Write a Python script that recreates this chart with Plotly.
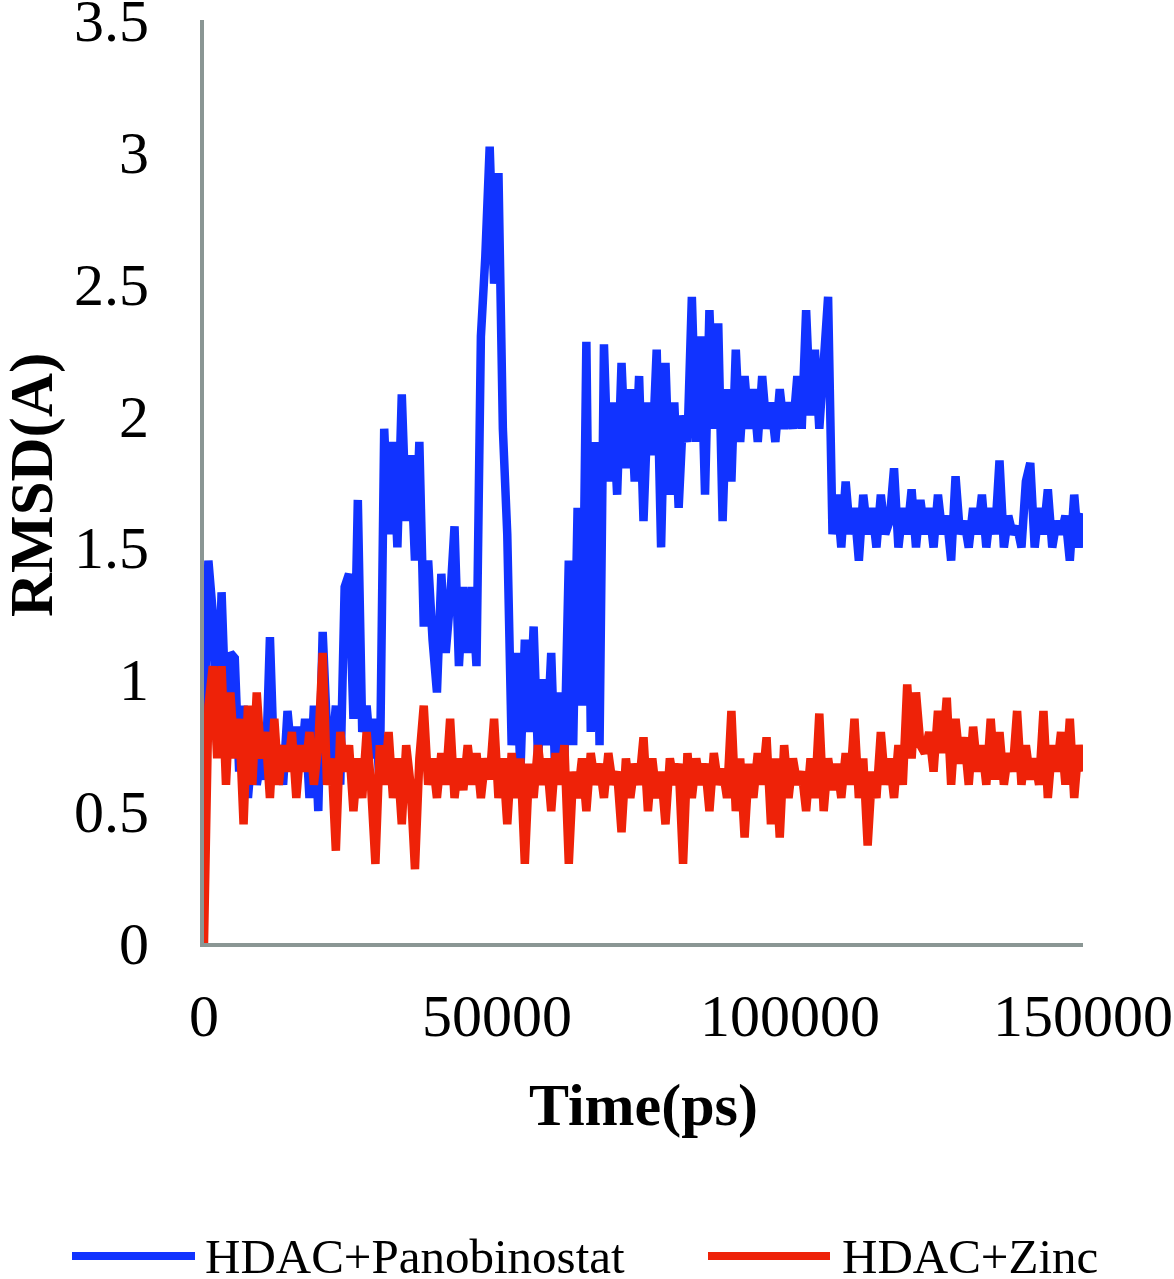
import plotly.graph_objects as go

time_step_ps = 750
panobinostat_rmsd = [
    0.8, 1.45, 1.25, 0.75, 1.33, 0.85, 1.1, 1.08, 0.65, 0.9,
    0.55, 0.75, 0.6, 0.7, 0.62, 1.16, 0.65, 0.75, 0.6, 0.88,
    0.7, 0.82, 0.65, 0.85, 0.55, 0.9, 0.5, 1.18, 0.8, 0.7,
    0.9, 0.6, 1.35, 1.4, 0.85, 1.68, 0.8, 0.9, 0.7, 0.85,
    0.6, 1.95, 1.55, 1.9, 1.5, 2.08, 1.6, 1.85, 1.45, 1.9,
    1.2, 1.45, 1.15, 0.95, 1.4, 1.1, 1.3, 1.58, 1.05, 1.35,
    1.1, 1.35, 1.05, 2.3, 2.6, 3.02, 2.5, 2.92, 1.95, 1.55,
    0.75, 1.1, 0.65, 1.15, 0.8, 1.2, 0.7, 1.0, 0.75, 1.1,
    0.6, 0.95, 0.7, 1.45, 0.75, 1.65, 0.9, 2.28, 0.8, 1.9,
    0.75, 2.27, 1.75, 2.05, 1.7, 2.2, 1.8, 2.1, 1.75, 2.15,
    1.6, 2.05, 1.85, 2.25, 1.5, 2.2, 1.7, 2.05, 1.65, 2.0,
    1.9, 2.45, 1.9, 2.3, 1.7, 2.4, 1.95, 2.35, 1.6, 2.1,
    1.75, 2.25, 1.9, 2.15, 1.95, 2.1, 1.9, 2.15, 1.95, 2.05,
    1.9, 2.1, 1.95, 2.05, 1.95, 2.15, 1.95, 2.4, 2.0, 2.25,
    1.95, 2.2, 2.45, 1.55, 1.7, 1.5, 1.75, 1.55, 1.65, 1.45,
    1.7, 1.55, 1.65, 1.5, 1.7, 1.55, 1.6, 1.8, 1.5, 1.65,
    1.55, 1.72, 1.5, 1.68, 1.55, 1.65, 1.5, 1.7, 1.55, 1.62,
    1.45, 1.77, 1.55, 1.6, 1.5, 1.65, 1.55, 1.7, 1.5, 1.65,
    1.55, 1.83, 1.5, 1.62, 1.55, 1.58, 1.5, 1.75, 1.82, 1.5,
    1.65, 1.55, 1.72, 1.5, 1.6, 1.55, 1.62, 1.45, 1.7, 1.5,
    1.63,
]
zinc_rmsd = [
    0.0, 0.9, 1.05, 0.7, 1.05, 0.6, 0.95, 0.7, 0.85, 0.45,
    0.9, 0.6, 0.95, 0.7, 0.8, 0.55, 0.85, 0.6, 0.75, 0.65,
    0.8, 0.55, 0.75, 0.65, 0.8, 0.6, 0.75, 1.1, 0.6, 0.7,
    0.35, 0.8, 0.65, 0.75, 0.5, 0.7, 0.55, 0.8, 0.6, 0.3,
    0.75, 0.6, 0.8, 0.55, 0.7, 0.45, 0.75, 0.6, 0.28, 0.7,
    0.9, 0.6, 0.7, 0.55, 0.72, 0.6, 0.85, 0.55, 0.7, 0.58,
    0.75, 0.6, 0.72, 0.55, 0.7, 0.62, 0.85, 0.55, 0.7, 0.45,
    0.72, 0.55, 0.7, 0.3, 0.68, 0.55, 0.75, 0.6, 0.7, 0.5,
    0.72, 0.6, 0.75, 0.3, 0.65, 0.55, 0.7, 0.5, 0.72, 0.6,
    0.68, 0.55, 0.72, 0.6, 0.65, 0.42, 0.7, 0.55, 0.68, 0.6,
    0.78, 0.5, 0.7, 0.55, 0.65, 0.45, 0.7, 0.6, 0.68, 0.3,
    0.72, 0.55, 0.7, 0.6, 0.68, 0.5, 0.72, 0.6, 0.66, 0.55,
    0.88, 0.5, 0.7, 0.4, 0.68, 0.55, 0.72, 0.6, 0.78, 0.45,
    0.7, 0.4, 0.75, 0.55, 0.7, 0.6, 0.65, 0.5, 0.7, 0.55,
    0.87, 0.5, 0.7, 0.58, 0.68, 0.55, 0.72, 0.6, 0.85, 0.55,
    0.7, 0.37, 0.65, 0.55, 0.8, 0.6, 0.7, 0.55, 0.75, 0.6,
    0.98, 0.7, 0.95, 0.75, 0.72, 0.8, 0.65, 0.88, 0.72, 0.93,
    0.6, 0.85, 0.68, 0.78, 0.6, 0.82, 0.65, 0.75, 0.6, 0.85,
    0.62, 0.8, 0.6, 0.72, 0.65, 0.88, 0.6, 0.75, 0.62, 0.7,
    0.6, 0.88, 0.55, 0.75, 0.65, 0.8, 0.6, 0.85, 0.55, 0.75,
    0.65,
]
time_ps = [i * time_step_ps for i in range(len(panobinostat_rmsd))]

x_ticks = [0, 50000, 100000, 150000]
y_ticks = [0, 0.5, 1, 1.5, 2, 2.5, 3, 3.5]
y_tick_text = ["0", "0.5", "1", "1.5", "2", "2.5", "3", "3.5"]
series_names = ["HDAC+Panobinostat", "HDAC+Zinc"]

BLUE = "#1133ff"
RED = "#ee2208"
GREY = "#8a9694"
FONT = "Liberation Serif"

fig = go.Figure()
fig.add_trace(go.Scatter(x=time_ps, y=panobinostat_rmsd, mode="lines",
                         line=dict(color=BLUE, width=8.5), name=series_names[0],
                         showlegend=False))
fig.add_trace(go.Scatter(x=time_ps, y=zinc_rmsd, mode="lines",
                         line=dict(color=RED, width=8.5), name=series_names[1],
                         showlegend=False))

W, H = 1174, 1279
L, R, T, B = 204, 91, 20, 336
pw, ph = W - L - R, H - T - B

def px_x(p):
    return (p - L) / pw

def px_y(p):
    return (H - B - p) / ph

# manual legend (long line samples as in the reference)
legend_y = px_y(1256)
for color, x0, x1, tx, name in [(BLUE, 72, 195, 203, series_names[0]),
                                (RED, 708, 830, 840, series_names[1])]:
    fig.add_shape(type="line", xref="paper", yref="paper",
                  x0=px_x(x0), x1=px_x(x1), y0=legend_y, y1=legend_y,
                  line=dict(color=color, width=8))
    fig.add_annotation(xref="paper", yref="paper", x=px_x(tx), y=legend_y,
                       xanchor="left", yanchor="middle", showarrow=False,
                       text=name, font=dict(family=FONT, size=49, color="black"))

fig.add_annotation(xref="paper", yref="paper", x=px_x(643), y=px_y(1105),
                   xanchor="center", yanchor="middle", showarrow=False,
                   text="<b>Time(ps)</b>", font=dict(family=FONT, size=60, color="black"))
fig.add_annotation(xref="paper", yref="paper", x=px_x(32), y=px_y(485),
                   xanchor="center", yanchor="middle", showarrow=False, textangle=-90,
                   text="<b>RMSD(A)</b>", font=dict(family=FONT, size=61, color="black"))

fig.update_layout(
    width=W, height=H,
    margin=dict(l=L, r=R, t=T, b=B, autoexpand=False),
    paper_bgcolor="white", plot_bgcolor="white",
    font=dict(family=FONT, color="black"),
    showlegend=False,
)
fig.update_xaxes(range=[0, 150000], tickvals=x_ticks, ticktext=[str(v) for v in x_ticks],
                 showgrid=False, zeroline=False, showline=True, linecolor=GREY, linewidth=4,
                 ticks="", tickfont=dict(family=FONT, size=60, color="black"),
                 ticklabelstandoff=17, ticklabeloverflow="allow", automargin=False)
fig.update_yaxes(range=[0, 3.5], tickvals=y_ticks, ticktext=y_tick_text,
                 showgrid=False, zeroline=False, showline=True, linecolor=GREY, linewidth=4,
                 ticks="", tickfont=dict(family=FONT, size=60, color="black"),
                 ticklabelstandoff=39, ticklabeloverflow="allow", automargin=False)

fig.write_html("out.html", config={"displayModeBar": False},
               post_script="document.body.style.margin='0';document.body.style.overflow='hidden';")
